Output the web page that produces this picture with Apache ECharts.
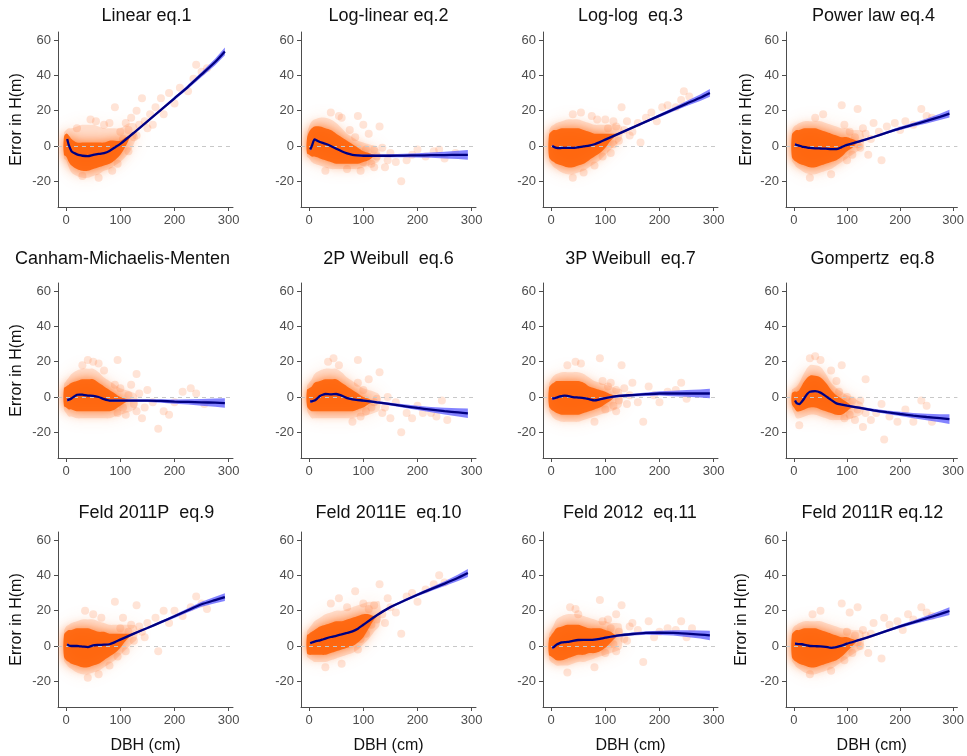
<!DOCTYPE html>
<html><head><meta charset="utf-8">
<script src="https://cdn.jsdelivr.net/npm/echarts@6/dist/echarts.min.js"></script>
<style>html,body{margin:0;padding:0;background:#fff}#c{width:967px;height:756px}</style>
</head><body><div id="c"></div>
<script>
// ---------- DATA ----------
const panelTitles = ['Linear eq.1','Log-linear eq.2','Log-log  eq.3','Power law eq.4',
  'Canham-Michaelis-Menten','2P Weibull  eq.6','3P Weibull  eq.7','Gompertz  eq.8',
  'Feld 2011P  eq.9','Feld 2011E  eq.10','Feld 2012  eq.11','Feld 2011R eq.12'];
const yTicks = [-20, 0, 20, 40, 60];
const xTicks = [0, 100, 200, 300];
const yAxisTitle = 'Error in H(m)';
const xAxisTitle = 'DBH (cm)';

// smoother (loess) curves, sampled at fitX
const fitX = [2,5,10,15,20,25,30,40,50,60,70,80,90,100,125,150,175,200,225,250,275,293];
const fitLinear   = [4,0.5,-3,-4,-4.7,-5.2,-5.5,-5.7,-5,-4.5,-4,-2.8,-0.8,1.2,7.5,14,20.5,27,33.5,40.5,47.5,53.5];
const fitLogLin   = [-2,0,3.8,3,2.3,1.8,1.3,0,-1.5,-3,-4.2,-5,-5.3,-5.5,-5.5,-5.5,-5.4,-5.3,-5.2,-5.1,-5,-5];
const fitLogLog   = [0,-0.5,-1.1,-1.2,-1.1,-1.1,-1.1,-1.1,-0.7,-0.2,0.2,1,2.2,3.6,7,10.4,13.8,17.2,20.6,24,27.3,30];
const fitPower    = [1,0.6,0.2,-0.3,-0.6,-0.9,-1.1,-1.3,-1.4,-1.5,-1.8,-1.8,-0.6,0.6,2.8,5.1,7.6,10,12.1,14.2,16.5,18.3];
const fitCanham   = [-1.7,-1.5,-0.8,0.3,1.3,1.4,1.3,0.8,0.7,0,-1.2,-2,-2,-2,-2,-2,-2.2,-2.6,-2.8,-3,-3.2,-3.4];
const fitWeib2    = [-2.5,-2.4,-2,-0.8,0.6,1.3,1.7,1.5,1.7,0.8,-0.6,-1.3,-1.7,-2,-3,-4,-5.1,-6.2,-7.1,-8,-8.7,-9.2];
const fitWeib3    = [-0.8,-0.8,-0.3,0.2,0.5,0.8,0.6,0,-0.3,-0.6,-1.2,-1.9,-1.3,-0.6,0.6,1.1,1.6,2,2,2,2,2];
const fitGompertz = [-2,-3.5,-4,-2.6,-0.5,1.7,3,3.3,2.5,0.5,-1.6,-3.6,-4.3,-4.9,-6.2,-7.5,-8.6,-9.6,-10.5,-11.3,-12,-12.5];
const fitFeld11P  = [1,0.3,0,0,0,-0.2,-0.3,-0.6,0.4,0.6,0.8,1,2.2,3.6,7,10.2,13.5,16.8,20.2,23.6,26,27.7];
const fitFeld11E  = [1.6,2,2.5,2.9,3.2,3.7,4.2,5.1,5.8,6.6,7.4,8.3,9.8,12,17.4,22,25.6,29,32.2,35.3,38.6,41.3];
const fitFeld12   = [-1,-0.6,0.8,1.5,2,2.2,2.3,2.9,3.4,3.5,3.5,3.6,4.1,4.7,6,6.8,7.4,7.5,7.4,7,6.5,6];
const fitFeld11R  = [1.3,1.2,1.1,1,0.7,0.3,0,-0.1,-0.2,-0.5,-1,-0.6,0.2,1.3,3.6,6,8.6,11.1,13.4,15.7,18,19.8];

// confidence half-widths at fitX
const ciWide   = [1.0,0.7,0.5,0.4,0.4,0.4,0.4,0.4,0.4,0.4,0.5,0.5,0.6,0.6,0.7,0.8,1.0,1.2,1.5,1.9,2.3,2.7];
const ciNarrow = [0.8,0.6,0.4,0.3,0.3,0.3,0.3,0.3,0.3,0.3,0.4,0.4,0.5,0.5,0.6,0.6,0.7,0.9,1.1,1.4,1.8,2.2];

// dense point cloud envelopes, sampled at cloudX
const cloudX = [-4,0,5,10,20,30,40,50,60,70,80,90,100,110,120,130];
const coreHiLinear = [5,7,6,4,2,2,2,2,2,2,3,3,3,5,6,9];
const coreLoLinear = [-5,-6,-9,-11,-13,-14,-14,-13,-12,-11,-10,-8,-5,0,6,9];
const haloHiLinear = [7,9,10,10,11,12,12,12,11,10,10,10,10,12,13,12];
const haloLoLinear = [-7,-8,-12,-15,-17,-18,-18,-17,-16,-14,-13,-11,-9,-6,-2,6];

const coreHiLogLin = [4,8,10,11,11,10,9,7,5,3,1,-1,-3,-4,-5,-5.5];
const coreLoLogLin = [-4,-5,-6,-6,-7,-8,-9,-10,-10,-10,-10,-10,-9,-8,-6,-5.5];
const haloHiLogLin = [6,11,14,15,16,16,15,13,10,7,5,3,2,1,0,-3];
const haloLoLogLin = [-6,-7,-9,-10,-11,-12,-13,-13,-13,-13,-13,-13,-12,-11,-10,-8];

const coreHiLogLog = [6,8,9,9,10,10,10,10,9,8,7,7,7,7,7,7.7];
const coreLoLogLog = [-6,-8,-9,-10,-11,-12,-12,-11,-10,-8,-6,-4,-1,3,6,7.7];
const haloHiLogLog = [8,11,12,13,14,15,15,15,14,13,12,12,12,12,12,11];
const haloLoLogLog = [-8,-10,-12,-13,-15,-16,-16,-15,-14,-12,-10,-8,-5,-2,1,4];

const coreHiPower = [6,8,9,9,10,10,10,9,8,7,6,5,5,4,3,3.3];
const coreLoPower = [-6,-8,-9,-10,-11,-12,-12,-11,-10,-9,-8,-6,-3,-1,2,3.3];
const haloHiPower = [8,11,12,13,14,14,14,14,13,12,11,10,10,9,9,8];
const haloLoPower = [-8,-10,-12,-13,-15,-16,-16,-15,-14,-13,-11,-9,-7,-5,-3,-1];

const coreHiCanham = [5,6,7,8,9,10,10,10,8,6,4,2,0,-1,-2,-2];
const coreLoCanham = [-5,-6,-7,-7,-8,-8,-8,-8,-8,-8,-8,-7,-5,-3,-2,-2];
const haloHiCanham = [7,9,11,13,15,16,16,16,14,11,9,7,5,4,3,1];
const haloLoCanham = [-7,-9,-11,-11,-12,-12,-12,-12,-12,-12,-12,-11,-10,-9,-8,-6];

const coreHiWeib2 = [4,5,6,8,9,10,10,10,8,6,4,2,0,-1,-2.8,-3.2];
const coreLoWeib2 = [-5,-7,-8,-8,-8,-8,-8,-8,-8,-8,-8,-7,-6,-4,-2.8,-3.2];
const haloHiWeib2 = [6,8,10,13,15,16,16,16,14,11,9,7,5,4,3,1];
const haloLoWeib2 = [-7,-10,-12,-12,-12,-12,-12,-12,-12,-12,-12,-11,-11,-10,-9,-7];

const coreHiWeib3 = [5,7,8,9,9,9,9,9,8,6,5,4,3,1.5,0.6,0.8];
const coreLoWeib3 = [-5,-7,-8,-9,-10,-10,-10,-10,-9,-8,-7,-6,-4,-2,0.6,0.8];
const haloHiWeib3 = [7,10,12,13,14,14,14,14,13,11,9,8,7,6,5,4];
const haloLoWeib3 = [-7,-10,-12,-13,-14,-14,-14,-14,-13,-12,-11,-10,-9,-8,-7,-5];

const coreHiGompertz = [2,3,3,4,9,12,12,11,8,4,1,-1,-3,-5,-5.9,-6.5];
const coreLoGompertz = [-4,-6,-8,-8,-7,-6,-6,-7,-8,-9,-10,-10,-8,-6,-5.9,-6.5];
const haloHiGompertz = [4,5,6,8,14,18,18,17,13,8,5,3,1,0,-2,-4];
const haloLoGompertz = [-6,-9,-12,-12,-11,-10,-10,-11,-12,-13,-13,-13,-13,-12,-11,-9];

const coreHiFeld11P = [6,8,9,9,10,10,10,9,8,8,7,7,7,7,7,7.6];
const coreLoFeld11P = [-6,-8,-9,-10,-11,-12,-12,-11,-10,-8,-6,-4,-1,3,6,7.6];
const haloHiFeld11P = [8,11,12,13,14,15,15,15,14,13,12,12,12,12,12,11];
const haloLoFeld11P = [-8,-10,-12,-13,-15,-16,-16,-15,-14,-12,-10,-8,-5,-2,1,4];

const coreHiFeld11E = [6,7,8,9,11,12,13,14,14,15,16,17,18,18,17,18.3];
const coreLoFeld11E = [-4,-5,-5,-5,-5,-5,-4,-3,-2,-1,0,2,5,10,15,18.3];
const haloHiFeld11E = [8,10,12,14,16,18,19,20,20,21,22,23,24,25,25,25];
const haloLoFeld11E = [-6,-7,-8,-9,-9,-9,-8,-7,-6,-5,-4,-2,1,4,8,12];

const coreHiFeld12 = [4,6,8,10,11,12,12,12,11,10,10,10,9,8,6,6.2];
const coreLoFeld12 = [-5,-6,-7,-8,-8,-7,-6,-5,-5,-4,-4,-3,-1,2,5,6.2];
const haloHiFeld12 = [6,9,12,15,17,18,18,18,17,16,15,14,14,13,13,12];
const haloLoFeld12 = [-7,-9,-10,-11,-11,-11,-10,-9,-9,-8,-7,-6,-5,-4,-3,-1];

const coreHiFeld11R = [6,8,9,9,10,10,10,9,8,7,6,5,5,4,3.5,4.1];
const coreLoFeld11R = [-6,-8,-9,-10,-11,-12,-12,-11,-10,-9,-8,-6,-3,0,3,4.1];
const haloHiFeld11R = [8,11,12,13,14,14,14,14,13,12,11,10,10,9,9,8];
const haloLoFeld11R = [-8,-10,-12,-13,-15,-16,-16,-15,-14,-13,-11,-9,-7,-5,-3,-1];

// sparse individual points (DBH, error)
const ptsLinear = [[45,15],[55,14],[90,22],[80,13],[110,13],[120,16],[130,20],[140,27],[145,14],[155,18],[160,12],[165,22],[175,27],[180,18],[190,30],[200,24],[210,33],[225,31],[235,38],[240,46],[250,42],[260,44],[30,-17],[60,-18],[85,-14],[115,-3],[100,8],[105,4],[115,9],[125,5],[135,12],[150,10],[70,12],[20,10],[95,-10],[130,6]];
const ptsLogLin = [[40,19],[55,17],[60,16],[90,17],[100,12],[110,7],[120,-2],[130,11],[140,-12],[150,-4],[160,-9],[170,-20],[180,-8],[190,-5],[200,-2],[215,-6],[230,-3],[240,-2],[250,-7],[270,-4],[70,-13],[95,-14],[30,-14],[105,-2],[115,-10],[125,-6],[135,-1],[145,-8],[100,-9],[120,-12],[85,5],[75,9]];
const ptsLogLog = [[40,18],[55,19],[75,17],[85,15],[100,15],[115,14],[130,22],[140,14],[150,8],[160,13],[165,2],[175,16],[185,19],[195,14],[205,22],[215,23],[230,22],[240,26],[245,31],[255,28],[40,-18],[60,-15],[110,-4],[105,10],[120,11],[125,3],[135,9],[145,6],[95,-6],[115,1],[80,-11]];
const ptsPower = [[40,16],[55,18],[90,23],[120,21],[130,10],[140,-5],[150,13],[160,8],[165,-8],[175,11],[190,13],[200,9],[210,14],[225,12],[240,21],[250,17],[260,16],[70,-16],[30,-18],[105,8],[110,-5],[115,5],[125,-1],[135,7],[100,-8],[145,4],[95,12],[120,1]];
const ptsCanham = [[30,18],[40,21],[50,20],[60,19],[70,15],[95,21],[100,5],[110,-10],[120,7],[130,13],[140,-12],[150,4],[160,-3],[170,-18],[180,-8],[190,-10],[200,-3],[215,3],[230,5],[240,2],[255,-4],[105,-6],[115,1],[125,-4],[135,2],[145,-6],[95,-9],[90,7],[130,-8]];
const ptsWeib2 = [[35,20],[45,22],[55,18],[90,21],[110,10],[120,-3],[130,14],[140,-6],[150,-12],[160,-3],[170,-20],[180,-9],[190,-12],[200,-5],[210,-9],[225,-9],[235,-11],[245,-2],[255,-13],[80,-14],[100,4],[105,-8],[115,-6],[125,-1],[135,-9],[145,0],[95,-11],[90,8]];
const ptsWeib3 = [[30,18],[45,20],[55,19],[90,22],[110,8],[120,4],[130,18],[140,-4],[150,8],[160,-3],[170,-14],[180,6],[190,1],[200,-3],[215,3],[230,4],[240,8],[250,-1],[80,-14],[100,-7],[105,6],[115,-5],[125,-2],[135,5],[145,1],[95,9],[120,-8]];
const ptsGompertz = [[30,22],[40,23],[50,21],[70,15],[90,18],[110,-2],[120,-7],[130,-17],[135,10],[145,-13],[155,-9],[165,-4],[170,-24],[180,-11],[195,-14],[210,-7],[225,-14],[240,-2],[250,-5],[260,-14],[10,-16],[95,-12],[100,0],[105,-10],[115,-13],[125,-2],[135,-9],[85,3],[80,9]];
const ptsFeld11P = [[35,20],[50,18],[65,16],[90,25],[105,16],[120,12],[130,23],[140,8],[150,13],[165,16],[170,-3],[180,20],[190,13],[200,20],[215,17],[230,22],[240,28],[250,24],[260,21],[40,-18],[60,-16],[100,10],[110,-3],[115,8],[125,3],[135,11],[145,5],[95,-6],[80,-11]];
const ptsFeld11E = [[40,24],[55,27],[70,22],[85,31],[100,24],[110,21],[130,35],[140,13],[150,22],[160,19],[170,7],[180,28],[190,30],[200,25],[215,32],[230,35],[240,40],[250,36],[30,-12],[60,-10],[105,7],[115,12],[120,23],[125,15],[135,18],[145,27],[95,4],[90,-2]];
const ptsFeld12 = [[35,22],[45,21],[50,18],[90,26],[105,15],[120,18],[130,23],[140,3],[150,13],[160,9],[170,-9],[180,14],[190,5],[200,8],[215,10],[230,9],[240,14],[250,5],[260,10],[30,-15],[80,-12],[100,-4],[110,10],[115,1],[125,8],[135,4],[145,11],[95,14],[120,-3]];
const ptsFeld11R = [[35,18],[50,20],[90,24],[105,19],[120,22],[135,6],[140,-4],[150,13],[165,-7],[170,16],[180,12],[195,14],[205,9],[215,18],[225,15],[240,22],[250,19],[260,17],[30,-16],[70,-14],[100,8],[110,-4],[115,6],[125,0],[130,9],[145,7],[95,-8],[120,2]];

// ---------- ASSEMBLY ----------
const panels = [
  {fit:fitLinear,ci:ciNarrow,cH:coreHiLinear,cL:coreLoLinear,hH:haloHiLinear,hL:haloLoLinear,pts:ptsLinear},
  {fit:fitLogLin,ci:ciWide,cH:coreHiLogLin,cL:coreLoLogLin,hH:haloHiLogLin,hL:haloLoLogLin,pts:ptsLogLin},
  {fit:fitLogLog,ci:ciNarrow,cH:coreHiLogLog,cL:coreLoLogLog,hH:haloHiLogLog,hL:haloLoLogLog,pts:ptsLogLog},
  {fit:fitPower,ci:ciNarrow,cH:coreHiPower,cL:coreLoPower,hH:haloHiPower,hL:haloLoPower,pts:ptsPower},
  {fit:fitCanham,ci:ciWide,cH:coreHiCanham,cL:coreLoCanham,hH:haloHiCanham,hL:haloLoCanham,pts:ptsCanham},
  {fit:fitWeib2,ci:ciWide,cH:coreHiWeib2,cL:coreLoWeib2,hH:haloHiWeib2,hL:haloLoWeib2,pts:ptsWeib2},
  {fit:fitWeib3,ci:ciWide,cH:coreHiWeib3,cL:coreLoWeib3,hH:haloHiWeib3,hL:haloLoWeib3,pts:ptsWeib3},
  {fit:fitGompertz,ci:ciWide,cH:coreHiGompertz,cL:coreLoGompertz,hH:haloHiGompertz,hL:haloLoGompertz,pts:ptsGompertz},
  {fit:fitFeld11P,ci:ciNarrow,cH:coreHiFeld11P,cL:coreLoFeld11P,hH:haloHiFeld11P,hL:haloLoFeld11P,pts:ptsFeld11P},
  {fit:fitFeld11E,ci:ciNarrow,cH:coreHiFeld11E,cL:coreLoFeld11E,hH:haloHiFeld11E,hL:haloLoFeld11E,pts:ptsFeld11E},
  {fit:fitFeld12,ci:ciWide,cH:coreHiFeld12,cL:coreLoFeld12,hH:haloHiFeld12,hL:haloLoFeld12,pts:ptsFeld12},
  {fit:fitFeld11R,ci:ciNarrow,cH:coreHiFeld11R,cL:coreLoFeld11R,hH:haloHiFeld11R,hL:haloLoFeld11R,pts:ptsFeld11R}
];

const colLeft = [58, 301, 543, 786];
const rowTop = [32, 283, 532];
const titleCenter = [146.5, 388.5, 630.5, 873.5, 122.5, 388.5, 630.5, 872.5, 146.5, 388.5, 630, 872.5];
const titleTop = [7, 250, 504];
const showYName = [true,false,false,true,true,false,false,false,true,false,false,true];
const yNameGap = [33,0,0,31,33,0,0,0,33,0,0,36];
const FONT = '"Liberation Sans", Arial, sans-serif';
const AX = '#4d4d4d';

function band(idx, xs, lo, hi, style, z, smooth) {
  const rows = xs.map((x, k) => [x, lo[k], hi[k]]);
  return {
    type: 'custom', xAxisIndex: idx, yAxisIndex: idx, z: z, silent: true, clip: true,
    data: rows, encode: {x: 0, y: [1, 2]},
    renderItem: function (params, api) {
      if (params.dataIndex !== 0) return null;
      const top = rows.map(r => api.coord([r[0], r[2]]));
      const bot = rows.map(r => api.coord([r[0], r[1]])).reverse();
      return {type: 'polygon', shape: {points: top.concat(bot), smooth: smooth}, style: Object.assign({}, style)};
    }
  };
}

const grids = [], xAxes = [], yAxes = [], series = [], titles = [];
panels.forEach((p, i) => {
  const r = Math.floor(i / 4), c = i % 4;
  grids.push({left: colLeft[c], top: rowTop[r], width: 175, height: 175, containLabel: false});
  xAxes.push({
    type: 'value', gridIndex: i, min: -15, max: 308,
    axisLine: {show: true, onZero: false, lineStyle: {color: AX, width: 1}},
    axisTick: {show: true, length: 4, lineStyle: {color: AX}, customValues: xTicks},
    axisLabel: {color: AX, fontSize: 13, fontFamily: FONT, margin: 7, customValues: xTicks},
    splitLine: {show: false},
    name: r === 2 ? xAxisTitle : '', nameLocation: 'middle', nameGap: 31,
    nameTextStyle: {color: '#111', fontSize: 16, fontFamily: FONT}
  });
  yAxes.push({
    type: 'value', gridIndex: i, min: -34.5, max: 64.5,
    axisLine: {show: true, onZero: false, lineStyle: {color: AX, width: 1}},
    axisTick: {show: true, length: 4, lineStyle: {color: AX}, customValues: yTicks},
    axisLabel: {color: AX, fontSize: 13, fontFamily: FONT, margin: 7, customValues: yTicks},
    splitLine: {show: false},
    name: showYName[i] ? yAxisTitle : '', nameLocation: 'middle', nameGap: yNameGap[i],
    nameTextStyle: {color: '#111', fontSize: 16, fontFamily: FONT}
  });
  titles.push({text: panelTitles[i], left: titleCenter[i], top: titleTop[r], textAlign: 'center', padding: 0,
    textStyle: {fontSize: 18, fontWeight: 'normal', color: '#111', fontFamily: FONT}});

  // zero reference line
  series.push({type: 'line', xAxisIndex: i, yAxisIndex: i, data: [], z: 1, silent: true,
    markLine: {silent: true, symbol: 'none', label: {show: false},
      lineStyle: {color: '#c8c8c8', type: [4, 4], width: 1}, data: [{yAxis: 0}]}});
  // light halo of points
  series.push(band(i, cloudX, p.hL, p.hH, {fill: 'rgba(255,120,50,0.2)', shadowBlur: 18, shadowColor: 'rgba(255,120,50,0.55)'}, 2, 0.4));
  // sparse points
  series.push({type: 'scatter', xAxisIndex: i, yAxisIndex: i, data: p.pts, symbolSize: 8, z: 3, silent: true,
    itemStyle: {color: 'rgba(255,115,45,0.24)'}});
  // dense core
  series.push(band(i, cloudX, p.cL, p.cH, {fill: 'rgba(255,102,14,0.94)', shadowBlur: 12, shadowColor: 'rgba(255,102,14,0.9)'}, 4, 0.4));
  // confidence band
  const lo = p.fit.map((v, k) => v - p.ci[k]);
  const hi = p.fit.map((v, k) => v + p.ci[k]);
  series.push(band(i, fitX, lo, hi, {fill: 'rgba(100,100,255,0.8)'}, 5, 0));
  // smoother
  series.push({type: 'line', xAxisIndex: i, yAxisIndex: i, z: 6, silent: true, showSymbol: false,
    data: fitX.map((x, k) => [x, p.fit[k]]), lineStyle: {color: '#000080', width: 2.3}, smooth: 0.2});
});

const chart = echarts.init(document.getElementById('c'), null, {renderer: 'canvas', width: 967, height: 756});
chart.setOption({
  animation: false, backgroundColor: '#ffffff',
  title: titles, grid: grids, xAxis: xAxes, yAxis: yAxes, series: series
});
</script>
</body></html>
